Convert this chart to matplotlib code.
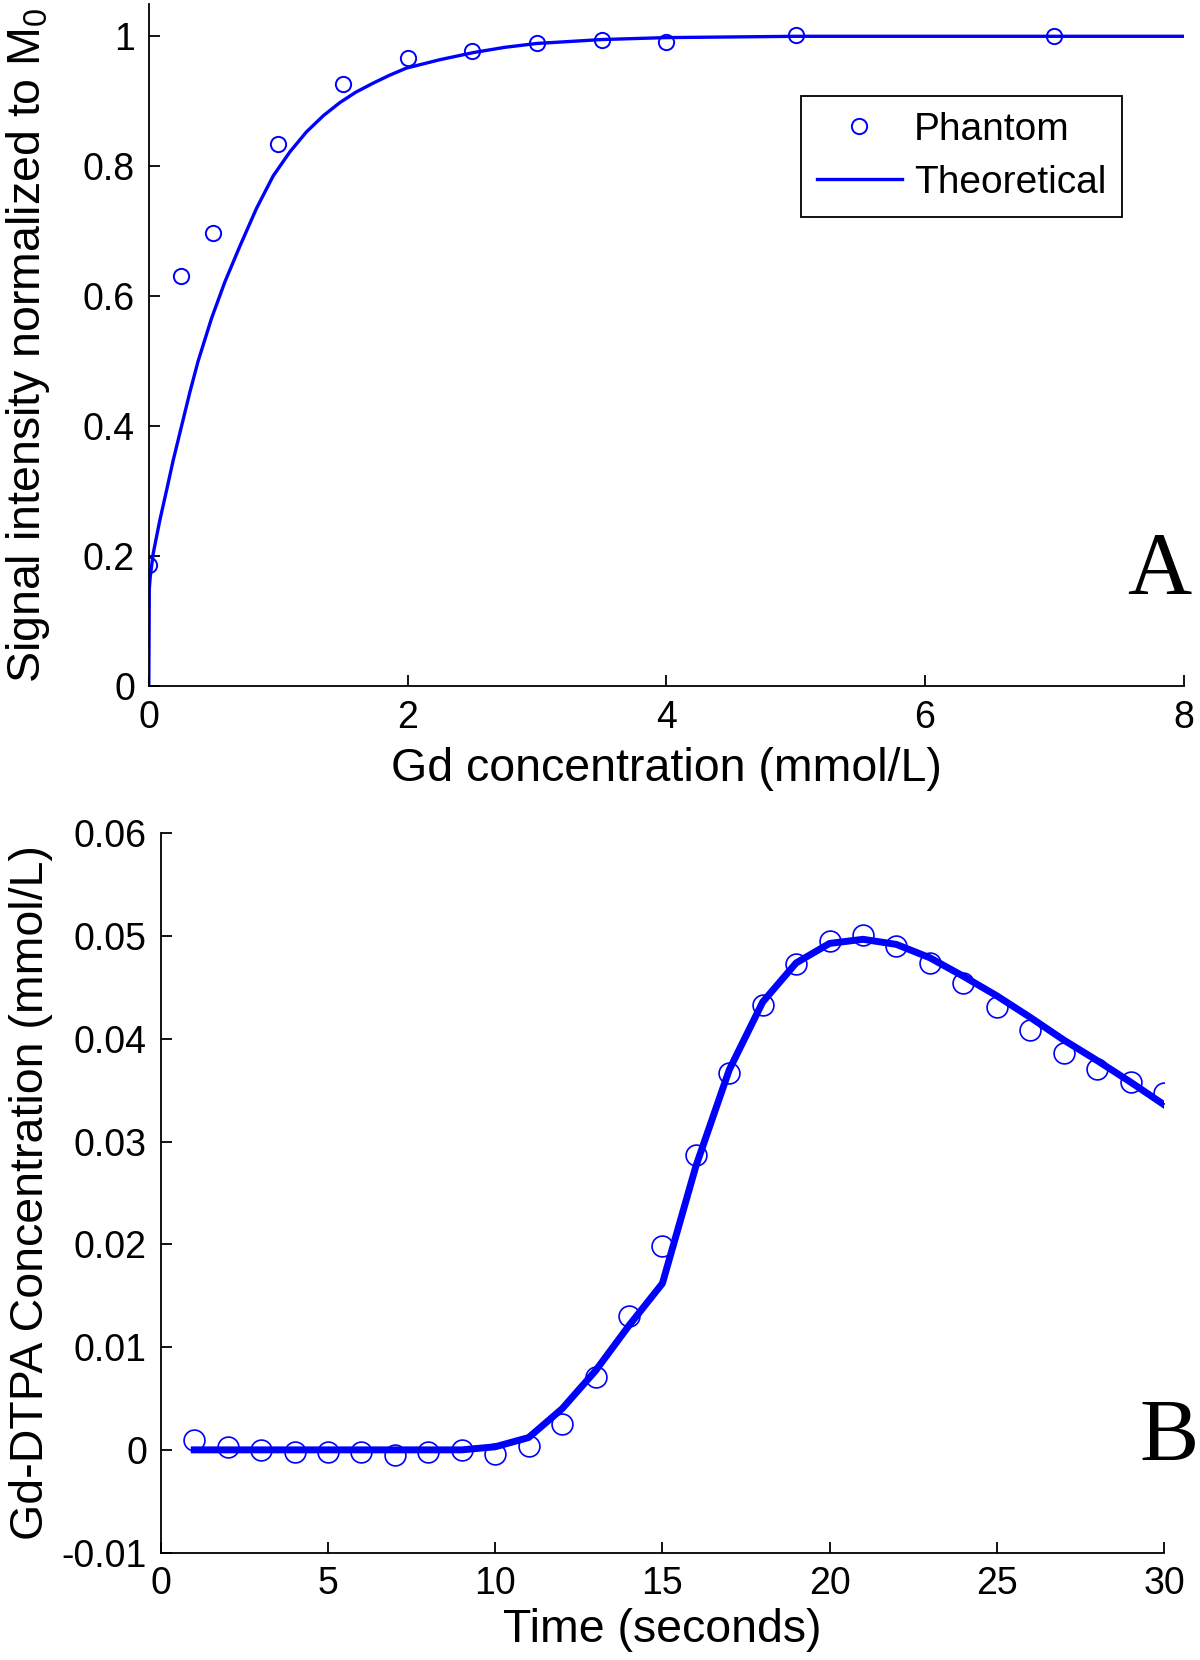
import matplotlib
matplotlib.use("Agg")
import matplotlib.pyplot as plt
from matplotlib.ticker import FixedLocator, FixedFormatter

plt.rcParams['font.family'] = ['Liberation Sans', 'DejaVu Sans']
plt.rcParams['mathtext.default'] = 'regular'

# ---- Panel A data ----
phantom_conc = [0, 0.25, 0.5, 1, 1.5, 2, 2.5, 3, 3.5, 4, 5, 7]
phantom_signal = [0.186, 0.631, 0.698, 0.834, 0.927, 0.966, 0.977, 0.989, 0.994, 0.991, 1.002, 1.0]
theory_conc = [0, 0.004, 0.012, 0.034, 0.085, 0.137, 0.188, 0.253, 0.317, 0.381, 0.485, 0.588,
               0.704, 0.832, 0.961, 1.09, 1.219, 1.35, 1.477, 1.6, 1.735, 1.86, 1.99, 2.25,
               2.51, 2.75, 3.0, 3.5, 4.0, 4.5, 5.0, 8.0]
theory_signal = [0, 0.15, 0.17, 0.204, 0.255, 0.301, 0.347, 0.400, 0.452, 0.500, 0.566, 0.622,
                 0.677, 0.735, 0.785, 0.822, 0.853, 0.878, 0.898, 0.914, 0.928, 0.940, 0.951, 0.964,
                 0.975, 0.983, 0.989, 0.995, 0.998, 0.999, 1.0, 1.0]
a_xticks = [0, 2, 4, 6, 8]
a_xticklabels = ['0', '2', '4', '6', '8']
a_yticks = [0, 0.2, 0.4, 0.6, 0.8, 1.0]
a_yticklabels = ['0', '0.2', '0.4', '0.6', '0.8', '1']

# ---- Panel B data ----
time_s = list(range(1, 31))
measured_conc = [0.0010, 0.0003, 0.0000, -0.0002, -0.0002, -0.0002, -0.0005, -0.0002, 0.0000, -0.0004,
                 0.0004, 0.0025, 0.0071, 0.0130, 0.0198, 0.0287, 0.0367, 0.0433, 0.0473, 0.0495,
                 0.0501, 0.0490, 0.0474, 0.0454, 0.0431, 0.0409, 0.0386, 0.0371, 0.0358, 0.0347]
fit_conc = [0.0, 0.0, 0.0, 0.0, 0.0, 0.0, 0.0, 0.0, 0.0, 0.0003,
            0.0012, 0.0040, 0.0077, 0.0121, 0.0162, 0.0276, 0.0370, 0.0436, 0.0474, 0.0493,
            0.0497, 0.0492, 0.0479, 0.0461, 0.0442, 0.0421, 0.0399, 0.0379, 0.0358, 0.0336]
b_xticks = [0, 5, 10, 15, 20, 25, 30]
b_xticklabels = ['0', '5', '10', '15', '20', '25', '30']
b_yticks = [-0.01, 0, 0.01, 0.02, 0.03, 0.04, 0.05, 0.06]
b_yticklabels = ['-0.01', '0', '0.01', '0.02', '0.03', '0.04', '0.05', '0.06']

BLUE = '#0000FF'
TICK_FS = 27
LABEL_FS = 33.5

fig = plt.figure(figsize=(12, 16.6), dpi=100)

def style_axes(ax):
    for s in ['top', 'right']:
        ax.spines[s].set_visible(False)
    for s in ['left', 'bottom']:
        ax.spines[s].set_linewidth(1.3)
    ax.tick_params(direction='in', length=8, width=1.3, labelsize=TICK_FS, pad=10,
                   top=False, right=False)

# Panel A
axA = fig.add_axes([0.124, 0.5867, 0.8625, 0.411])
axA.plot(phantom_conc, phantom_signal, linestyle='none', marker='o', markersize=11,
         markerfacecolor='none', markeredgecolor=BLUE, markeredgewidth=1.4, label='Phantom')
axA.plot(theory_conc, theory_signal, color=BLUE, linewidth=2.4, label='Theoretical')
axA.set_xlim(0, 8)
axA.set_ylim(0, 1.05)
axA.xaxis.set_major_locator(FixedLocator(a_xticks))
axA.xaxis.set_major_formatter(FixedFormatter(a_xticklabels))
axA.yaxis.set_major_locator(FixedLocator(a_yticks))
axA.yaxis.set_major_formatter(FixedFormatter(a_yticklabels))
style_axes(axA)
axA.set_xlabel('Gd concentration (mmol/L)', fontsize=LABEL_FS)
axA.set_ylabel('Signal intensity normalized to M$_0$', fontsize=LABEL_FS)
axA.xaxis.set_label_coords(0.5, -0.089)
axA.xaxis.label.set_va('top')
axA.yaxis.set_label_coords(-0.094, 0.5)
leg = axA.legend(loc='upper left', bbox_to_anchor=(801 / 1200, 1 - 96 / 1660),
                 bbox_transform=fig.transFigure, borderaxespad=0, fontsize=28,
                 fancybox=False, edgecolor='black', framealpha=1, handlelength=2.2,
                 handletextpad=0.3, labelspacing=0.45, borderpad=0.4)
leg.get_frame().set_linewidth(1.3)

# Panel B
axB = fig.add_axes([0.134, 0.0647, 0.836, 0.4332])
axB.plot(time_s, measured_conc, linestyle='none', marker='o', markersize=15,
         markerfacecolor='none', markeredgecolor=BLUE, markeredgewidth=1.2)
axB.plot(time_s, fit_conc, color=BLUE, linewidth=5)
axB.set_xlim(0, 30)
axB.set_ylim(-0.01, 0.06)
axB.xaxis.set_major_locator(FixedLocator(b_xticks))
axB.xaxis.set_major_formatter(FixedFormatter(b_xticklabels))
axB.yaxis.set_major_locator(FixedLocator(b_yticks))
axB.yaxis.set_major_formatter(FixedFormatter(b_yticklabels))
style_axes(axB)
axB.set_xlabel('Time (seconds)', fontsize=LABEL_FS)
axB.set_ylabel('Gd-DTPA Concentration (mmol/L)', fontsize=LABEL_FS)
axB.xaxis.set_label_coords(0.5, -0.077)
axB.xaxis.label.set_va('top')
axB.yaxis.set_label_coords(-0.107, 0.5)

# Panel letters
fig.text(0.9925, 1 - 593 / 1660, 'A', ha='right', va='baseline', fontsize=64,
         family=['Liberation Serif', 'DejaVu Serif'])
fig.text(0.999, 1 - 1459.5 / 1660, 'B', ha='right', va='baseline', fontsize=64,
         family=['Liberation Serif', 'DejaVu Serif'])

fig.savefig('out.png', dpi=100)
